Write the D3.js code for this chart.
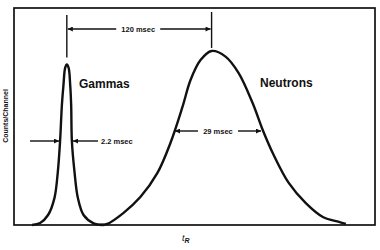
<!DOCTYPE html>
<html>
<head>
<meta charset="utf-8">
<script src="https://cdn.jsdelivr.net/npm/d3@7"></script>
<style>
  html, body { margin: 0; padding: 0; background: #fff; }
  svg { display: block; }
  text { font-family: "Liberation Sans", Arial, sans-serif; fill: #111; }
</style>
</head>
<body>
<div id="chart"></div>
<script>
// time in msec (arbitrary origin), counts per channel in relative units
const gammaTime   = [15, 21.7, 28.3, 33.6, 36.4, 38.3, 39.8, 41.1, 42.5, 43.9, 45.4, 46.7, 47.5, 48.1, 50.3, 53.1, 57.8, 65.8, 75];
const gammaCounts = [0, 0.9, 4.6, 12.4, 24.4, 38.7, 55.3, 64.5, 72.4, 74, 72.4, 64.5, 55.3, 38.7, 24.4, 12.4, 4.6, 0.9, 0];

const neutronTime   = [71.7, 77.5, 90.8, 105, 119.2, 130, 140, 146.7, 155, 164.2, 175.8, 186.7, 198.3, 206.7, 215, 228.3, 242.5, 256.7, 270, 275.8];
const neutronCounts = [0, 0.5, 5.5, 12.9, 24, 37.8, 54.4, 66.8, 76, 80.2, 77.6, 70, 56.2, 43.8, 33.2, 19.4, 10.1, 3.7, 1.4, 0.5];

const labels = { gamma: "Gammas", neutron: "Neutrons", yTitle: "Counts/Channel", sep: "120 msec", gWidth: "2.2 msec", nWidth: "29 msec" };

const W = 380, H = 250;
const svg = d3.select("#chart").append("svg").attr("width", W).attr("height", H);

const x = d3.scaleLinear().domain([0, 300]).range([14, 375]);
const y = d3.scaleLinear().domain([0, 100]).range([225, 8]);

const ink = "#111";

// arrow head marker
const defs = svg.append("defs");
defs.append("marker")
    .attr("id", "head")
    .attr("viewBox", "0 0 10 10")
    .attr("refX", 10).attr("refY", 5)
    .attr("markerWidth", 7).attr("markerHeight", 5)
    .attr("markerUnits", "userSpaceOnUse")
    .attr("orient", "auto")
  .append("path")
    .attr("d", "M0,0 L10,5 L0,10 Z")
    .attr("fill", ink);

// frame
svg.append("rect")
    .attr("x", x(0)).attr("y", y(100))
    .attr("width", x(300) - x(0)).attr("height", y(0) - y(100))
    .attr("fill", "none").attr("stroke", ink).attr("stroke-width", 1.7);

const line = d3.line().x(d => x(d[0])).y(d => y(d[1])).curve(d3.curveCatmullRom.alpha(0.5));

const gamma = d3.zip(gammaTime, gammaCounts);
const neutron = d3.zip(neutronTime, neutronCounts);

svg.append("path").datum(gamma).attr("d", line)
    .attr("fill", "none").attr("stroke", ink).attr("stroke-width", 2.4);
svg.append("path").datum(neutron).attr("d", line)
    .attr("fill", "none").attr("stroke", ink).attr("stroke-width", 2.4);

// peaks
const gPeak = gamma[d3.maxIndex(gammaCounts)];
const nPeak = neutron[d3.maxIndex(neutronCounts)];

const ann = svg.append("g").attr("stroke", ink).attr("stroke-width", 1.4);
// vertical marks above peaks
ann.append("line").attr("x1", x(gPeak[0])).attr("x2", x(gPeak[0])).attr("y1", 15).attr("y2", y(gPeak[1]) - 7);
ann.append("line").attr("x1", x(nPeak[0])).attr("x2", x(nPeak[0])).attr("y1", 12).attr("y2", y(nPeak[1]) - 3);

// 120 msec separation arrows
const sepY = 29;
const sepMid = (x(gPeak[0]) + x(nPeak[0])) / 2;
ann.append("line").attr("x1", sepMid - 23).attr("x2", x(gPeak[0]) + 1).attr("y1", sepY).attr("y2", sepY).attr("marker-end", "url(#head)");
ann.append("line").attr("x1", sepMid + 21).attr("x2", x(nPeak[0]) - 1).attr("y1", sepY).attr("y2", sepY).attr("marker-end", "url(#head)");
svg.append("text").attr("x", sepMid - 1).attr("y", sepY + 2.5)
    .attr("text-anchor", "middle").attr("font-size", 7.5).attr("font-weight", "bold")
    .text(labels.sep);

// gamma width arrows (2.2 msec)
const gwY = 141;
ann.append("line").attr("x1", 30).attr("x2", 59).attr("y1", gwY).attr("y2", gwY).attr("marker-end", "url(#head)");
ann.append("line").attr("x1", 98).attr("x2", 73).attr("y1", gwY).attr("y2", gwY).attr("marker-end", "url(#head)");
svg.append("text").attr("x", 101).attr("y", gwY + 2.5)
    .attr("font-size", 7.5).attr("font-weight", "bold").text(labels.gWidth);

// neutron width arrows (29 msec)
const nwY = 131;
ann.append("line").attr("x1", 198).attr("x2", 175).attr("y1", nwY).attr("y2", nwY).attr("marker-end", "url(#head)");
ann.append("line").attr("x1", 238).attr("x2", 261).attr("y1", nwY).attr("y2", nwY).attr("marker-end", "url(#head)");
svg.append("text").attr("x", 218).attr("y", nwY + 2.5)
    .attr("text-anchor", "middle").attr("font-size", 7.5).attr("font-weight", "bold").text(labels.nWidth);

// curve labels
svg.append("text").attr("x", 79).attr("y", 88)
    .attr("font-size", 12).attr("font-weight", "bold").text(labels.gamma);
svg.append("text").attr("x", 260).attr("y", 87)
    .attr("font-size", 12).attr("font-weight", "bold").text(labels.neutron);

// axis titles
svg.append("text")
    .attr("transform", "translate(8,116) rotate(-90)")
    .attr("text-anchor", "middle").attr("font-size", 7).attr("font-weight", "bold")
    .text(labels.yTitle);

const tR = svg.append("text").attr("x", 182).attr("y", 241).attr("font-size", 9).attr("font-style", "italic");
tR.append("tspan").text("t");
tR.append("tspan").attr("dy", 2).attr("font-size", 7).attr("font-weight", "bold").text("R");
</script>
</body>
</html>
